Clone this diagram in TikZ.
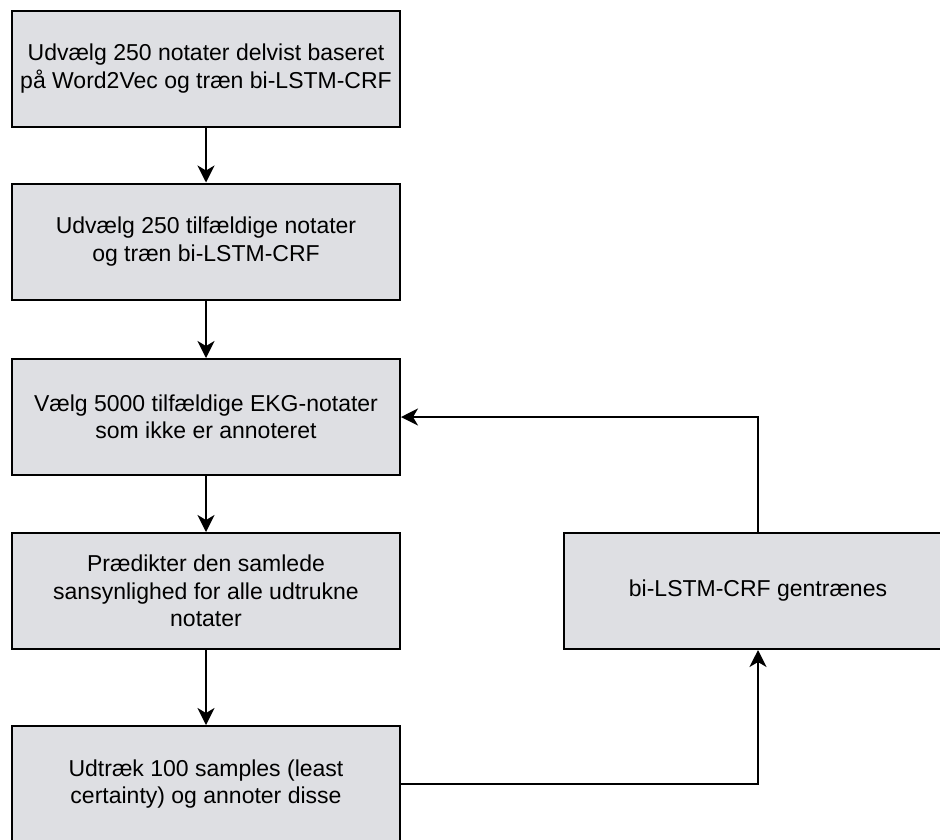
\documentclass[tikz,border=0pt]{standalone}
\usepackage{fontspec}
\setmainfont{Liberation Sans}
\usetikzlibrary{arrows.meta}
\definecolor{boxfill}{RGB}{222,223,227}
\begin{document}
\begin{tikzpicture}[x=1pt,y=-1pt,
  stepbox/.style={draw=black, line width=2pt, fill=boxfill,
    minimum width=388pt, minimum height=116pt, inner sep=0pt,
    align=center, font=\fontsize{23}{27.5}\selectfont},
  flow/.style={line width=2pt, -{Stealth[length=17pt,width=17pt,inset=5pt]}}]
\clip (0,0) rectangle (940,839);
\fill[white] (0,0) rectangle (940,839);
\node[stepbox] (a) at (206,68.5) {Udvælg 250 notater delvist baseret\\på Word2Vec og træn bi-LSTM-CRF};
\node[stepbox] (b) at (206,241.5) {Udvælg 250 tilfældige notater\\ og træn bi-LSTM-CRF};
\node[stepbox] (c) at (206,417) {Vælg 5000 tilfældige EKG-notater\\som ikke er annoteret};
\node[stepbox] (d) at (206,591) {Prædikter den samlede\\sansynlighed for alle udtrukne\\notater};
\node[stepbox] (e) at (206,784) {Udtræk 100 samples (least\\certainty) og annoter disse};
\node[stepbox] (f) at (758,591) {bi-LSTM-CRF gentrænes};
\draw[flow] (a) -- (b);
\draw[flow] (b) -- (c);
\draw[flow] (c) -- (d);
\draw[flow] (d) -- (e);
\draw[flow] (e.east) -| (f.south);
\draw[flow] (f.north) |- (c.east);
\end{tikzpicture}
\end{document}
